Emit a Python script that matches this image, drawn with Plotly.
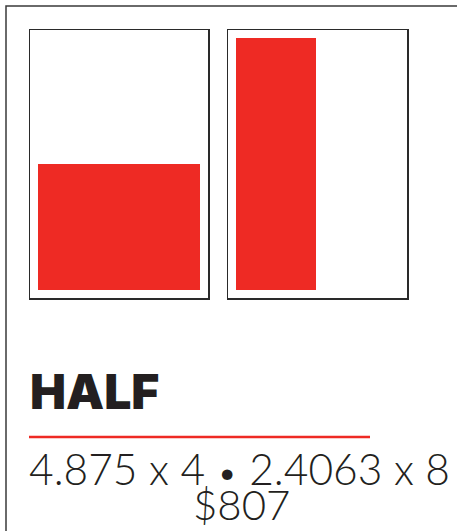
import plotly.graph_objects as go

# Data (inches)
ad_names = ["Horizontal half", "Vertical half"]
ad_widths = [4.875, 2.4063]
ad_heights = [4, 8]
page_margin = 0.25
page_width = 5.375
page_height = 8.5
title_text = "HALF"
dims_parts = ["4.875 x 4", "2.4063 x 8"]
price_text = "$807"

RED = "#EE2A24"
INK = "#231F20"
W, H = 457, 531

fig = go.Figure()

axes_px = [(30, 208), (228, 407)]
page_top, page_bottom = 30, 298

for i, (name, w, h) in enumerate(zip(ad_names, ad_widths, ad_heights)):
    xa = "x" if i == 0 else f"x{i+1}"
    ya = "y" if i == 0 else f"y{i+1}"
    fig.add_trace(go.Bar(
        x=[page_margin + w / 2], y=[h], base=[page_margin], width=[w],
        marker=dict(color=RED, line=dict(width=0)), name=name,
        xaxis=xa, yaxis=ya, showlegend=False, hoverinfo="skip"))
    x0, x1 = axes_px[i]
    ax = dict(domain=[x0 / W, x1 / W], range=[0, page_width], showgrid=False,
              zeroline=False, showticklabels=False, ticks="", showline=True,
              mirror=True, linecolor="#2a2a2a", linewidth=1.5, fixedrange=True)
    ay = dict(domain=[(H - page_bottom) / H, (H - page_top) / H], range=[0, page_height],
              showgrid=False, zeroline=False, showticklabels=False, ticks="",
              showline=True, mirror=True, linecolor="#2a2a2a", linewidth=1.5, fixedrange=True)
    if i > 0:
        ax["anchor"] = ya
        ay["anchor"] = xa
    fig.update_layout(**{("xaxis" if i == 0 else f"xaxis{i+1}"): ax,
                         ("yaxis" if i == 0 else f"yaxis{i+1}"): ay})

# outer frame (left + top edges)
fig.add_shape(type="path", xref="paper", yref="paper",
              path=f"M {6/W},-0.05 L {6/W},{(H-6)/H} L 1.05,{(H-6)/H}",
              line=dict(color="#3a3a3a", width=1.5))
# red rule
fig.add_shape(type="line", xref="paper", yref="paper",
              x0=29 / W, x1=370 / W, y0=(H - 437) / H, y1=(H - 437) / H,
              line=dict(color=RED, width=2.5))

fig.add_annotation(text=title_text, xref="paper", yref="paper",
                   x=28 / W, y=(H - 391) / H, xanchor="left", yanchor="middle",
                   showarrow=False,
                   font=dict(family="Inter", size=48, color=INK, weight=900))
dims_text = (dims_parts[0] + ' <span style="font-size:36px">•</span> ' + dims_parts[1])
fig.add_annotation(text=dims_text, xref="paper", yref="paper",
                   x=240 / W, y=(H - 468) / H, xanchor="center", yanchor="middle",
                   showarrow=False,
                   font=dict(family="Lato", size=42.5, color=INK, weight=300))
fig.add_annotation(text=price_text, xref="paper", yref="paper",
                   x=241 / W, y=(H - 504) / H, xanchor="center", yanchor="middle",
                   showarrow=False,
                   font=dict(family="Lato", size=42, color=INK, weight=300))

fig.update_layout(width=W, height=H, margin=dict(l=0, r=0, t=0, b=0),
                  paper_bgcolor="white", plot_bgcolor="white", bargap=0)

fig.write_html("out.html", config={"displayModeBar": False, "staticPlot": True},
               post_script="document.body.style.margin='0';document.body.style.overflow='hidden';")
